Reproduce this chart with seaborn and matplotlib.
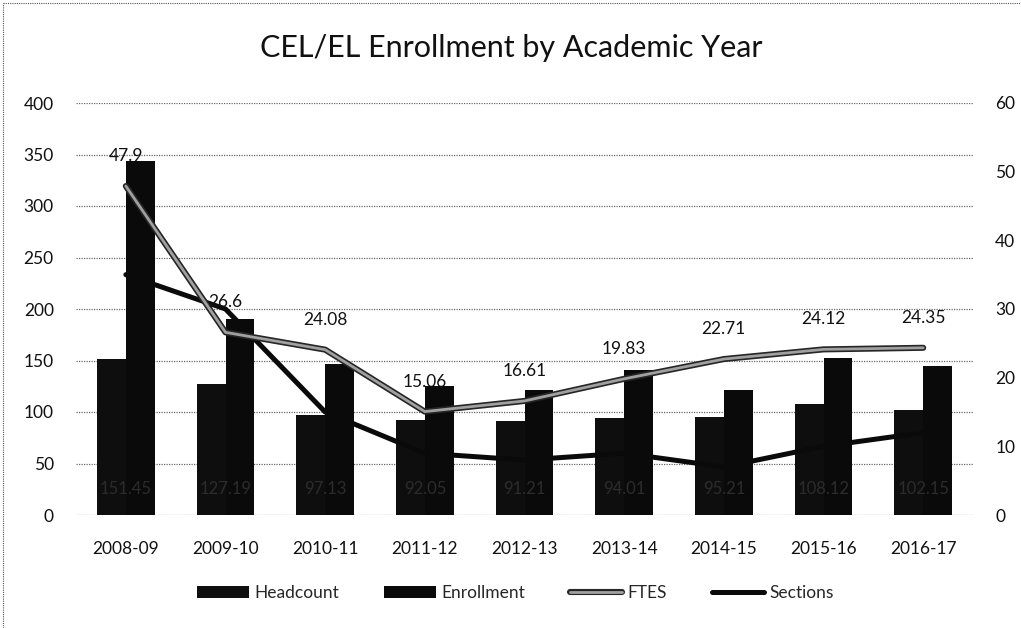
import numpy as np
import pandas as pd
import matplotlib
matplotlib.use("Agg")
import matplotlib.pyplot as plt
import matplotlib.patheffects as pe
from matplotlib.lines import Line2D
from matplotlib.patches import Patch
import seaborn as sns

# Academic-year data
years = ["2008-09", "2009-10", "2010-11", "2011-12", "2012-13",
         "2013-14", "2014-15", "2015-16", "2016-17"]
headcount = [151.45, 127.19, 97.13, 92.05, 91.21, 94.01, 95.21, 108.12, 102.15]
enrollment = [344, 190, 147, 125, 121, 141, 121, 152, 145]
ftes = [47.9, 26.6, 24.08, 15.06, 16.61, 19.83, 22.71, 24.12, 24.35]
sections = [35, 30, 15, 9, 8, 9, 7, 10, 12]

left_ticks = [0, 50, 100, 150, 200, 250, 300, 350, 400]
right_ticks = [0, 10, 20, 30, 40, 50, 60]

sns.set_theme(style="white")
plt.rcParams["font.family"] = ["Lato", "DejaVu Sans"]

W, H = 1021, 628
fig = plt.figure(figsize=(W / 100, H / 100), dpi=100)
fig.patch.set_facecolor("white")

left, right, top, bottom = 76, 973, 103, 515
ax = fig.add_axes([left / W, 1 - bottom / H, (right - left) / W, (bottom - top) / H])

bar_colors = ["#0e0e0e", "#0a0a0a"]
bars = pd.DataFrame({
    "Year": years * 2,
    "Value": headcount + enrollment,
    "Series": ["Headcount"] * len(years) + ["Enrollment"] * len(years),
})
sns.barplot(data=bars, x="Year", y="Value", hue="Series", ax=ax,
            palette=bar_colors, width=0.58, dodge=True,
            saturation=1, legend=False, linewidth=0, zorder=2)

ax.set_ylim(0, 400)
ax.set_xlim(-0.5, len(years) - 0.5)
ax.set_yticks(left_ticks)
ax.set_xlabel("")
ax.set_ylabel("")
ax.tick_params(axis="both", length=0, labelsize=12.5, colors="#111111")
ax.tick_params(axis="y", pad=16)
ax.tick_params(axis="x", pad=19)
for s in ax.spines.values():
    s.set_visible(False)
ax.yaxis.grid(True, color="#6a6a6a", linestyle=(0, (1, 1)), linewidth=0.9)
ax.set_axisbelow(True)

# Headcount values near the base of each group
for i, v in enumerate(headcount):
    ax.text(i, 25, f"{v:.2f}", ha="center", va="center", fontsize=12,
            color="#2c2c2c", zorder=5)

# Secondary axis for FTES and Sections
ax2 = ax.twinx()
ax2.set_ylim(0, 60)
ax2.set_yticks(right_ticks)
ax2.tick_params(axis="y", length=0, labelsize=12.5, colors="#111111", pad=16)
for s in ax2.spines.values():
    s.set_visible(False)
ax2.grid(False)

ftes_fx = [pe.Stroke(linewidth=4.4, foreground="#262626"), pe.Normal()]
pos = np.arange(len(years))
sns.lineplot(x=pos, y=sections, ax=ax2, color="#0a0a0a", linewidth=3.6,
             sort=False, zorder=3)
sns.lineplot(x=pos, y=ftes, ax=ax2, color="#a0a0a0", linewidth=2.0,
             sort=False, zorder=4)
ax2.lines[-1].set_path_effects(ftes_fx)
ax2.set_xlim(-0.5, len(years) - 0.5)

for i, v in enumerate(ftes):
    ax2.annotate(f"{v:g}", (i, v), xytext=(0, 30), textcoords="offset pixels",
                 ha="center", va="center", fontsize=12.5, color="#111111",
                 zorder=6)

fig.text(511 / W, 1 - 48 / H, "CEL/EL Enrollment by Academic Year",
         ha="center", va="center", fontsize=22, color="#111111")

handles = [
    Patch(facecolor=bar_colors[0], edgecolor="none", label="Headcount"),
    Patch(facecolor=bar_colors[1], edgecolor="none", label="Enrollment"),
    Line2D([], [], color="#a0a0a0", linewidth=2.0, label="FTES",
           path_effects=ftes_fx),
    Line2D([], [], color="#0a0a0a", linewidth=3.6, label="Sections"),
]
fig.legend(handles=handles, loc="center", bbox_to_anchor=(515 / W, 1 - 593 / H),
           ncol=4, frameon=False, fontsize=12.5, handlelength=3.0,
           handleheight=0.75, handletextpad=0.3, columnspacing=2.6)

# Outer chart frame
fig.add_artist(Line2D([3 / W, 3 / W], [0, 1 - 3 / H], color="#555555",
                      linewidth=0.8, linestyle=(0, (1, 1))))
fig.add_artist(Line2D([3 / W, 1], [1 - 3 / H, 1 - 3 / H], color="#555555",
                      linewidth=0.8, linestyle=(0, (1, 1))))

fig.savefig("out.png", dpi=100)
